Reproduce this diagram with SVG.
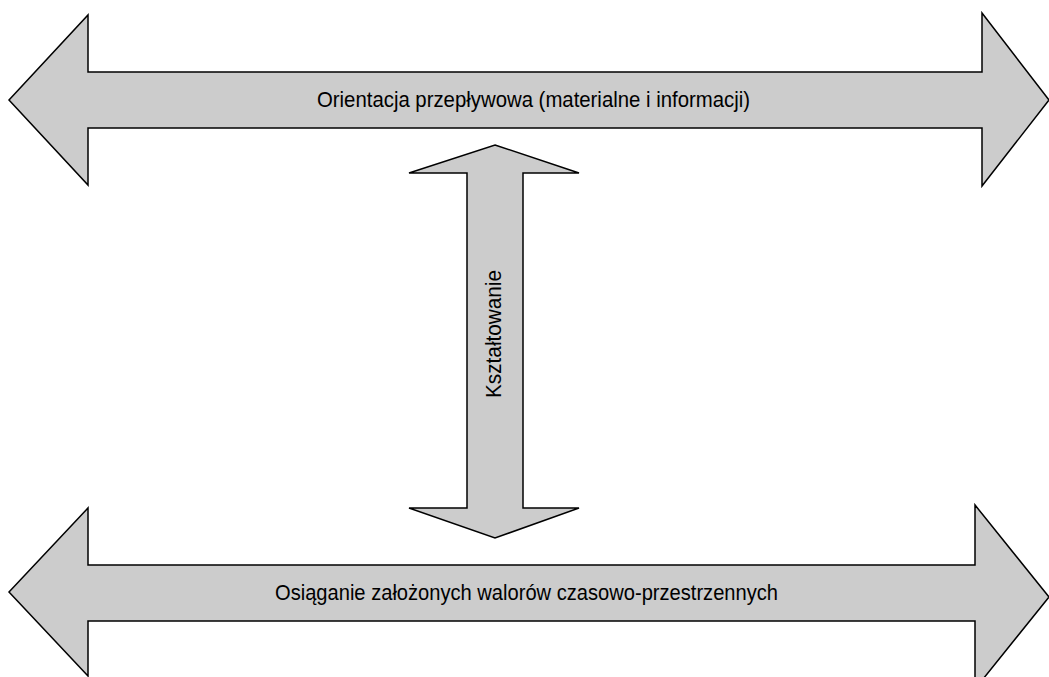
<svg xmlns="http://www.w3.org/2000/svg" width="1049" height="677" viewBox="0 0 1049 677">
<style>
.arr{fill:#cccccc;stroke:#000;stroke-width:1.5;stroke-linejoin:miter}
.lbl{font-family:"Liberation Sans",Arial,sans-serif;font-size:22px;fill:#000}
</style>
<rect width="1049" height="677" fill="#fff"/>
<g id="top-arrow">
<path class="arr" d="M9,100 L88,15 L88,72 L982,72 L982,13 L1049,100 L982,186 L982,128 L88,128 L88,185 Z"/>
<text class="lbl" x="317" y="107" textLength="433" lengthAdjust="spacingAndGlyphs">Orientacja przepływowa (materialne i informacji)</text>
</g>
<g id="vertical-arrow">
<path class="arr" d="M495,145 L579,173 L523,173 L523,508 L579,508 L495,538 L409,508 L467,508 L467,173 L409,173 Z"/>
<text class="lbl" transform="translate(501,398) rotate(-90)" x="0" y="0" textLength="128" lengthAdjust="spacingAndGlyphs">Kształtowanie</text>
</g>
<g id="bottom-arrow">
<path class="arr" d="M9,592 L88,508 L88,565 L975,565 L975,505 L1049,597 L975,689 L975,621 L88,621 L88,676 Z"/>
<text class="lbl" x="275" y="600" textLength="503" lengthAdjust="spacingAndGlyphs">Osiąganie założonych walorów czasowo-przestrzennych</text>
</g>
<g id="connectors"></g>
</svg>
